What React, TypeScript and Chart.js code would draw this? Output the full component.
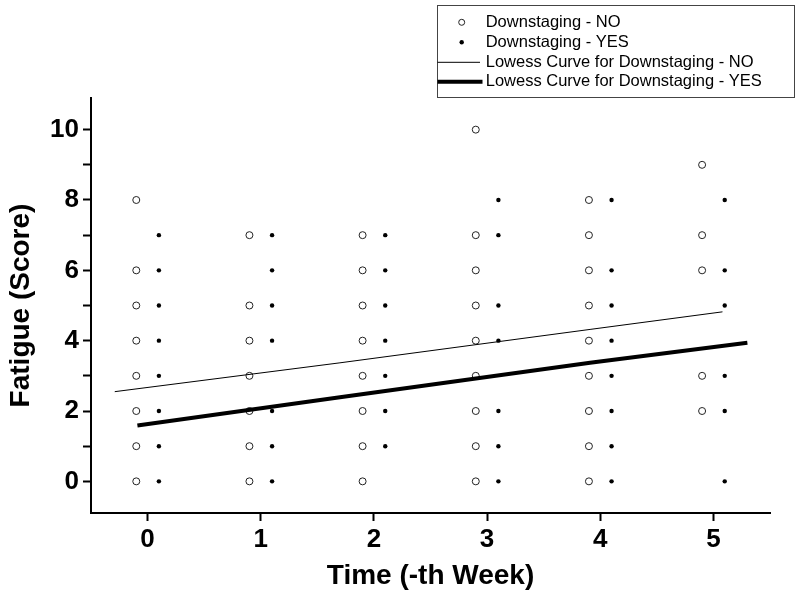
import React, { useEffect, useRef } from "react";
import { Chart, registerables } from "chart.js";

Chart.register(...registerables);

// ---- data ----
const weeks = [0, 1, 2, 3, 4, 5];
const noScores: number[][] = [
  [0, 1, 2, 3, 4, 5, 6, 8],
  [0, 1, 2, 3, 4, 5, 7],
  [0, 1, 2, 3, 4, 5, 6, 7],
  [0, 1, 2, 3, 4, 5, 6, 7, 10],
  [0, 1, 2, 3, 4, 5, 6, 7, 8],
  [2, 3, 6, 7, 9],
];
const yesScores: number[][] = [
  [0, 1, 2, 3, 4, 5, 6, 7],
  [0, 1, 2, 4, 5, 6, 7],
  [1, 2, 3, 4, 5, 6, 7],
  [0, 1, 2, 4, 5, 7, 8],
  [0, 1, 2, 3, 4, 5, 6, 8],
  [0, 2, 3, 5, 6, 8],
];
const lowessNoX = [-0.29, 1.7, 3.91, 5.08];
const lowessNoY = [2.55, 3.37, 4.32, 4.82];
const lowessYesX = [-0.09, 1.7, 3.91, 5.3];
const lowessYesY = [1.59, 2.39, 3.37, 3.94];
const xTicks = [0, 1, 2, 3, 4, 5];
const yTicks = [0, 1, 2, 3, 4, 5, 6, 7, 8, 9, 10];
const labelNo = "Downstaging - NO";
const labelYes = "Downstaging - YES";
const labelLowNo = "Lowess Curve for Downstaging - NO";
const labelLowYes = "Lowess Curve for Downstaging - YES";

const FONT = "'Liberation Sans', Arial, Helvetica, sans-serif";

const legendPlugin = {
  id: "boxLegend",
  afterDraw(chart: any) {
    const ctx = chart.ctx;
    const ds = chart.data.datasets;
    ctx.save();
    // box
    ctx.strokeStyle = "#444";
    ctx.lineWidth = 1;
    ctx.strokeRect(437.5, 5.5, 357, 92);
    ctx.font = `16.5px ${FONT}`;
    ctx.fillStyle = "#000";
    ctx.textBaseline = "middle";
    ctx.textAlign = "left";
    const rows = [22.3, 42.3, 62.3, 81.7];
    const order = [2, 3, 0, 1];
    order.forEach((di, i) => {
      const d = ds[di];
      const y = rows[i];
      if (d.showLine) {
        ctx.beginPath();
        ctx.strokeStyle = "#000";
        ctx.lineWidth = d.borderWidth;
        ctx.moveTo(437.5, y);
        ctx.lineTo(di === 0 ? 480 : 482.5, y);
        ctx.stroke();
      } else {
        ctx.beginPath();
        ctx.arc(461.7, y, d.pointRadius === 3.5 ? 3 : 2.2, 0, Math.PI * 2);
        ctx.fillStyle = d.backgroundColor;
        ctx.fill();
        if (d.borderWidth > 0) {
          ctx.lineWidth = 1;
          ctx.strokeStyle = d.borderColor;
          ctx.stroke();
        }
      }
      ctx.fillStyle = "#000";
      ctx.fillText(d.label, 485.7, y);
    });
    ctx.restore();
  },
};

export default function App() {
  const ref = useRef<HTMLCanvasElement | null>(null);
  useEffect(() => {
    if (!ref.current) return;
    Chart.defaults.font.family = FONT;
    const noPts: { x: number; y: number }[] = [];
    const yesPts: { x: number; y: number }[] = [];
    weeks.forEach((w, i) => {
      noScores[i].forEach((v) => noPts.push({ x: w - 0.1, y: v }));
      yesScores[i].forEach((v) => yesPts.push({ x: w + 0.1, y: v }));
    });
    const lowNo = lowessNoX.map((x, i) => ({ x, y: lowessNoY[i] }));
    const lowYes = lowessYesX.map((x, i) => ({ x, y: lowessYesY[i] }));

    const chart = new Chart(ref.current, {
      type: "scatter",
      data: {
        datasets: [
          {
            label: labelLowNo,
            data: lowNo,
            showLine: true,
            borderColor: "#000",
            borderWidth: 1,
            pointRadius: 0,
            order: 0,
          } as any,
          {
            label: labelLowYes,
            data: lowYes,
            showLine: true,
            borderColor: "#000",
            borderWidth: 4,
            pointRadius: 0,
            order: 0,
          } as any,
          {
            label: labelNo,
            data: noPts,
            showLine: false,
            pointRadius: 3.5,
            borderWidth: 1,
            borderColor: "#222",
            backgroundColor: "#fff",
            order: 1,
          } as any,
          {
            label: labelYes,
            data: yesPts,
            showLine: false,
            pointRadius: 2.2,
            borderWidth: 0,
            borderColor: "#000",
            backgroundColor: "#000",
            order: 1,
          } as any,
        ],
      },
      options: {
        responsive: false,
        animation: false,
        layout: { padding: { top: 98, right: 30, left: 0, bottom: 0 } },
        plugins: {
          legend: { display: false },
          tooltip: { enabled: false },
        },
        scales: {
          x: {
            type: "linear",
            min: -0.5,
            max: 5.5,
            afterBuildTicks: (s: any) => {
              s.ticks = xTicks.map((v) => ({ value: v }));
            },
            afterFit: (s: any) => {
              s.height = 87;
            },
            grid: {
              display: true,
              drawOnChartArea: false,
              drawTicks: true,
              tickLength: 8,
              tickWidth: 2,
              tickColor: "#000",
            },
            border: { display: true, color: "#000", width: 2 },
            ticks: {
              color: "#000",
              font: { size: 26, weight: "bold" },
              padding: 3,
              maxRotation: 0,
            },
            title: {
              display: true,
              text: "Time (-th Week)",
              color: "#000",
              font: { size: 28, weight: "bold" },
              padding: { top: 0, bottom: 7 },
            },
          },
          y: {
            type: "linear",
            min: -0.9,
            max: 10.9,
            afterBuildTicks: (s: any) => {
              s.ticks = yTicks.map((v) => ({ value: v }));
            },
            afterFit: (s: any) => {
              s.width = 91;
            },
            grid: {
              display: true,
              drawOnChartArea: false,
              drawTicks: true,
              tickLength: 8,
              tickWidth: 2,
              tickColor: "#000",
            },
            border: { display: true, color: "#000", width: 2 },
            ticks: {
              color: "#000",
              font: { size: 26, weight: "bold" },
              padding: 4,
              callback: (v: any) => (Number(v) % 2 === 0 ? String(v) : ""),
            },
            title: {
              display: true,
              text: "Fatigue (Score)",
              color: "#000",
              font: { size: 28, weight: "bold" },
              padding: { top: 4, bottom: 0 },
            },
          },
        },
      },
      plugins: [legendPlugin],
    });
    return () => chart.destroy();
  }, []);

  return (
    <div style={{ position: "fixed", left: 0, top: 0, width: 800, height: 600, background: "#fff" }}>
      <canvas ref={ref} width={800} height={600} style={{ display: "block" }} />
    </div>
  );
}
